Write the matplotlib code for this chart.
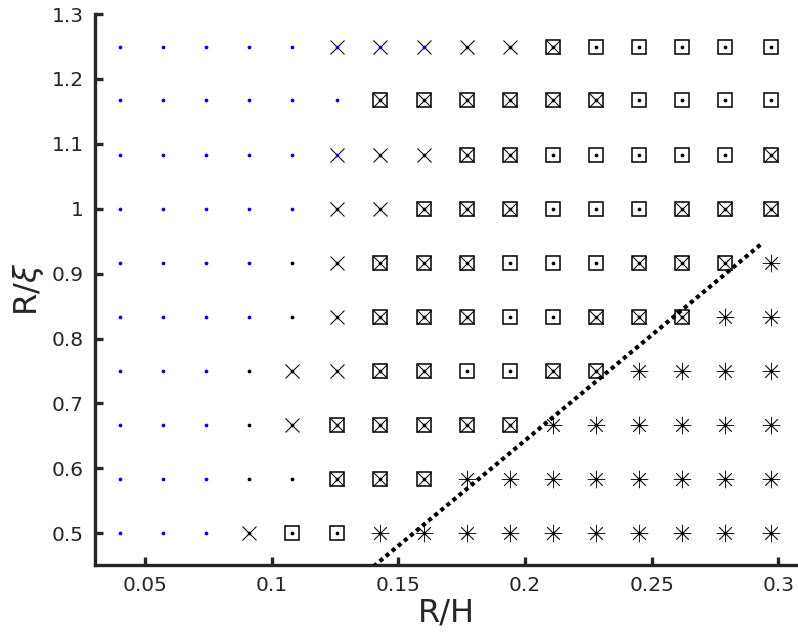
import matplotlib
matplotlib.use("Agg")
import matplotlib.pyplot as plt
import numpy as np

# grid of parameters
r_over_h = [0.040, 0.057, 0.074, 0.091, 0.108, 0.126, 0.143, 0.160,
            0.177, 0.194, 0.211, 0.228, 0.245, 0.262, 0.279, 0.297]
r_over_xi = [1.250, 1.167, 1.083, 1.000, 0.917, 0.833, 0.750, 0.667, 0.583, 0.500]

# state of each point, rows follow r_over_xi (top to bottom)
# b = blue dot, k = black dot, x = cross, y = cross on blue dot,
# q = boxed cross, s = boxed dot, a = asterisk
states = [
    "bbbbbyyyxxqsssss",
    "bbbbbbqqqqqqssss",
    "bbbbbyxxqqsssssq",
    "bbbbbxxqqqsssqqq",
    "bbbbkxqqqsssqqqa",
    "bbbbkxqqqssqqqaa",
    "bbbkxxqqssqqaaaa",
    "bbbkxqqqqqaaaaaa",
    "bbbkkqqqaaaaaaaa",
    "bbbxssaaaaaaaaaa",
]

# boundary line end points
line_x = [0.1403, 0.2937]
line_y = [0.449, 0.947]

fig = plt.figure(figsize=(7.98, 6.41), dpi=100)
ax = fig.add_axes([0.119, 0.119, 0.881, 0.859])

pts = {c: ([], []) for c in "bkxyqsa"}
for i, row in enumerate(states):
    for j, c in enumerate(row):
        pts[c][0].append(r_over_h[j])
        pts[c][1].append(r_over_xi[i])

def sel(codes):
    xs, ys = [], []
    for c in codes:
        xs += pts[c][0]
        ys += pts[c][1]
    return xs, ys

ink = "black"
# dots
xs, ys = sel("by")
ax.plot(xs, ys, "o", color="blue", ms=2.7, mew=0, zorder=3)
xs, ys = sel("kxqsa")
ax.plot(xs, ys, "o", color=ink, ms=2.7, mew=0, zorder=3)
# crosses
xs, ys = sel("xyq")
ax.plot(xs, ys, "x", color=ink, ms=9.5, mew=0.75, zorder=2)
# boxes
xs, ys = sel("qs")
ax.plot(xs, ys, "s", mfc="none", mec=ink, ms=10, mew=1.1, zorder=2)
# asterisks
xs, ys = sel("a")
ax.plot(xs, ys, marker=(8, 2, 0), ls="none", color="#202020", ms=12.5, mew=0.6, zorder=2)

ax.plot(line_x, line_y, color="black", lw=3, ls=(0, (1.0, 0.9)), zorder=4)

ax.set_xlim(0.0303, 0.3078)
ax.set_ylim(0.4515, 1.3)
ax.set_xticks([0.05, 0.1, 0.15, 0.2, 0.25, 0.3])
ax.set_xticklabels(["0.05", "0.1", "0.15", "0.2", "0.25", "0.3"])
ax.set_yticks([0.5, 0.6, 0.7, 0.8, 0.9, 1.0, 1.1, 1.2, 1.3])
ax.set_yticklabels(["0.5", "0.6", "0.7", "0.8", "0.9", "1", "1.1", "1.2", "1.3"])

dark = "#262626"
for s in ["top", "right"]:
    ax.spines[s].set_visible(False)
for s in ["left", "bottom"]:
    ax.spines[s].set_linewidth(2.4)
    ax.spines[s].set_color(dark)
ax.tick_params(direction="in", length=6, width=2.4, color=dark,
               labelsize=14.5, labelcolor=dark, pad=8)

ax.set_xlabel("R/H", fontsize=23, color=dark, labelpad=2)
ax.set_ylabel(r"R/$\xi$", fontsize=23, color=dark, labelpad=4)

fig.savefig("out.png", dpi=100)
